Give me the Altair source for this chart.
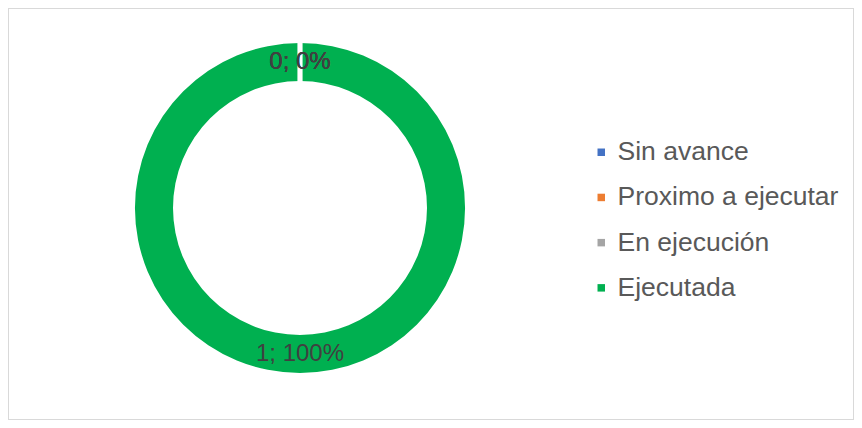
import altair as alt
import pandas as pd

categories = ["Sin avance", "Proximo a ejecutar", "En ejecución", "Ejecutada"]
values = [0, 0, 0, 1]
colors = ["#4472C4", "#ED7D31", "#A5A5A5", "#00B050"]

total = sum(values)
labels = [f"{v}; {round(100 * v / total)}%" for v in values]

df = pd.DataFrame({
    "cat": categories,
    "value": values,
    "label": labels,
    "idx": list(range(len(categories))),
})

FONT = "Liberation Sans"
W, H = 846, 412
CX, CY = 292, 200

base = alt.Chart(df).encode(
    theta=alt.Theta("value:Q", stack=True),
    order=alt.Order("idx:Q"),
    x=alt.value(CX),
    y=alt.value(CY),
)

ring = base.mark_arc(outerRadius=165, innerRadius=127, strokeWidth=0).encode(
    color=alt.Color(
        "cat:N",
        scale=alt.Scale(domain=categories, range=colors),
        legend=alt.Legend(
            title=None,
            orient="none",
            legendX=580,
            legendY=131,
            symbolType="square",
            symbolSize=56,
            symbolStrokeWidth=0,
            labelFont=FONT,
            labelFontSize=26.5,
            labelColor="#595959",
            labelOffset=3,
            rowPadding=18.2,
            padding=0,
            labelLimit=400,
        ),
    )
)

sep = base.transform_filter(alt.datum.value == 0).mark_arc(
    outerRadius=166, innerRadius=126, stroke="white", strokeWidth=4.5, fillOpacity=0
)

text = base.mark_text(
    radius=146, font=FONT, fontSize=24, color="#404040", baseline="middle", align="center"
).encode(text="label:N")

chart = (
    alt.layer(ring, sep, text)
    .properties(width=W, height=H, padding=0, background="white")
    .configure_view(stroke="#D9D9D9", strokeWidth=2)
)

chart.save("out.html", embed_options={"renderer": "svg", "actions": False})
